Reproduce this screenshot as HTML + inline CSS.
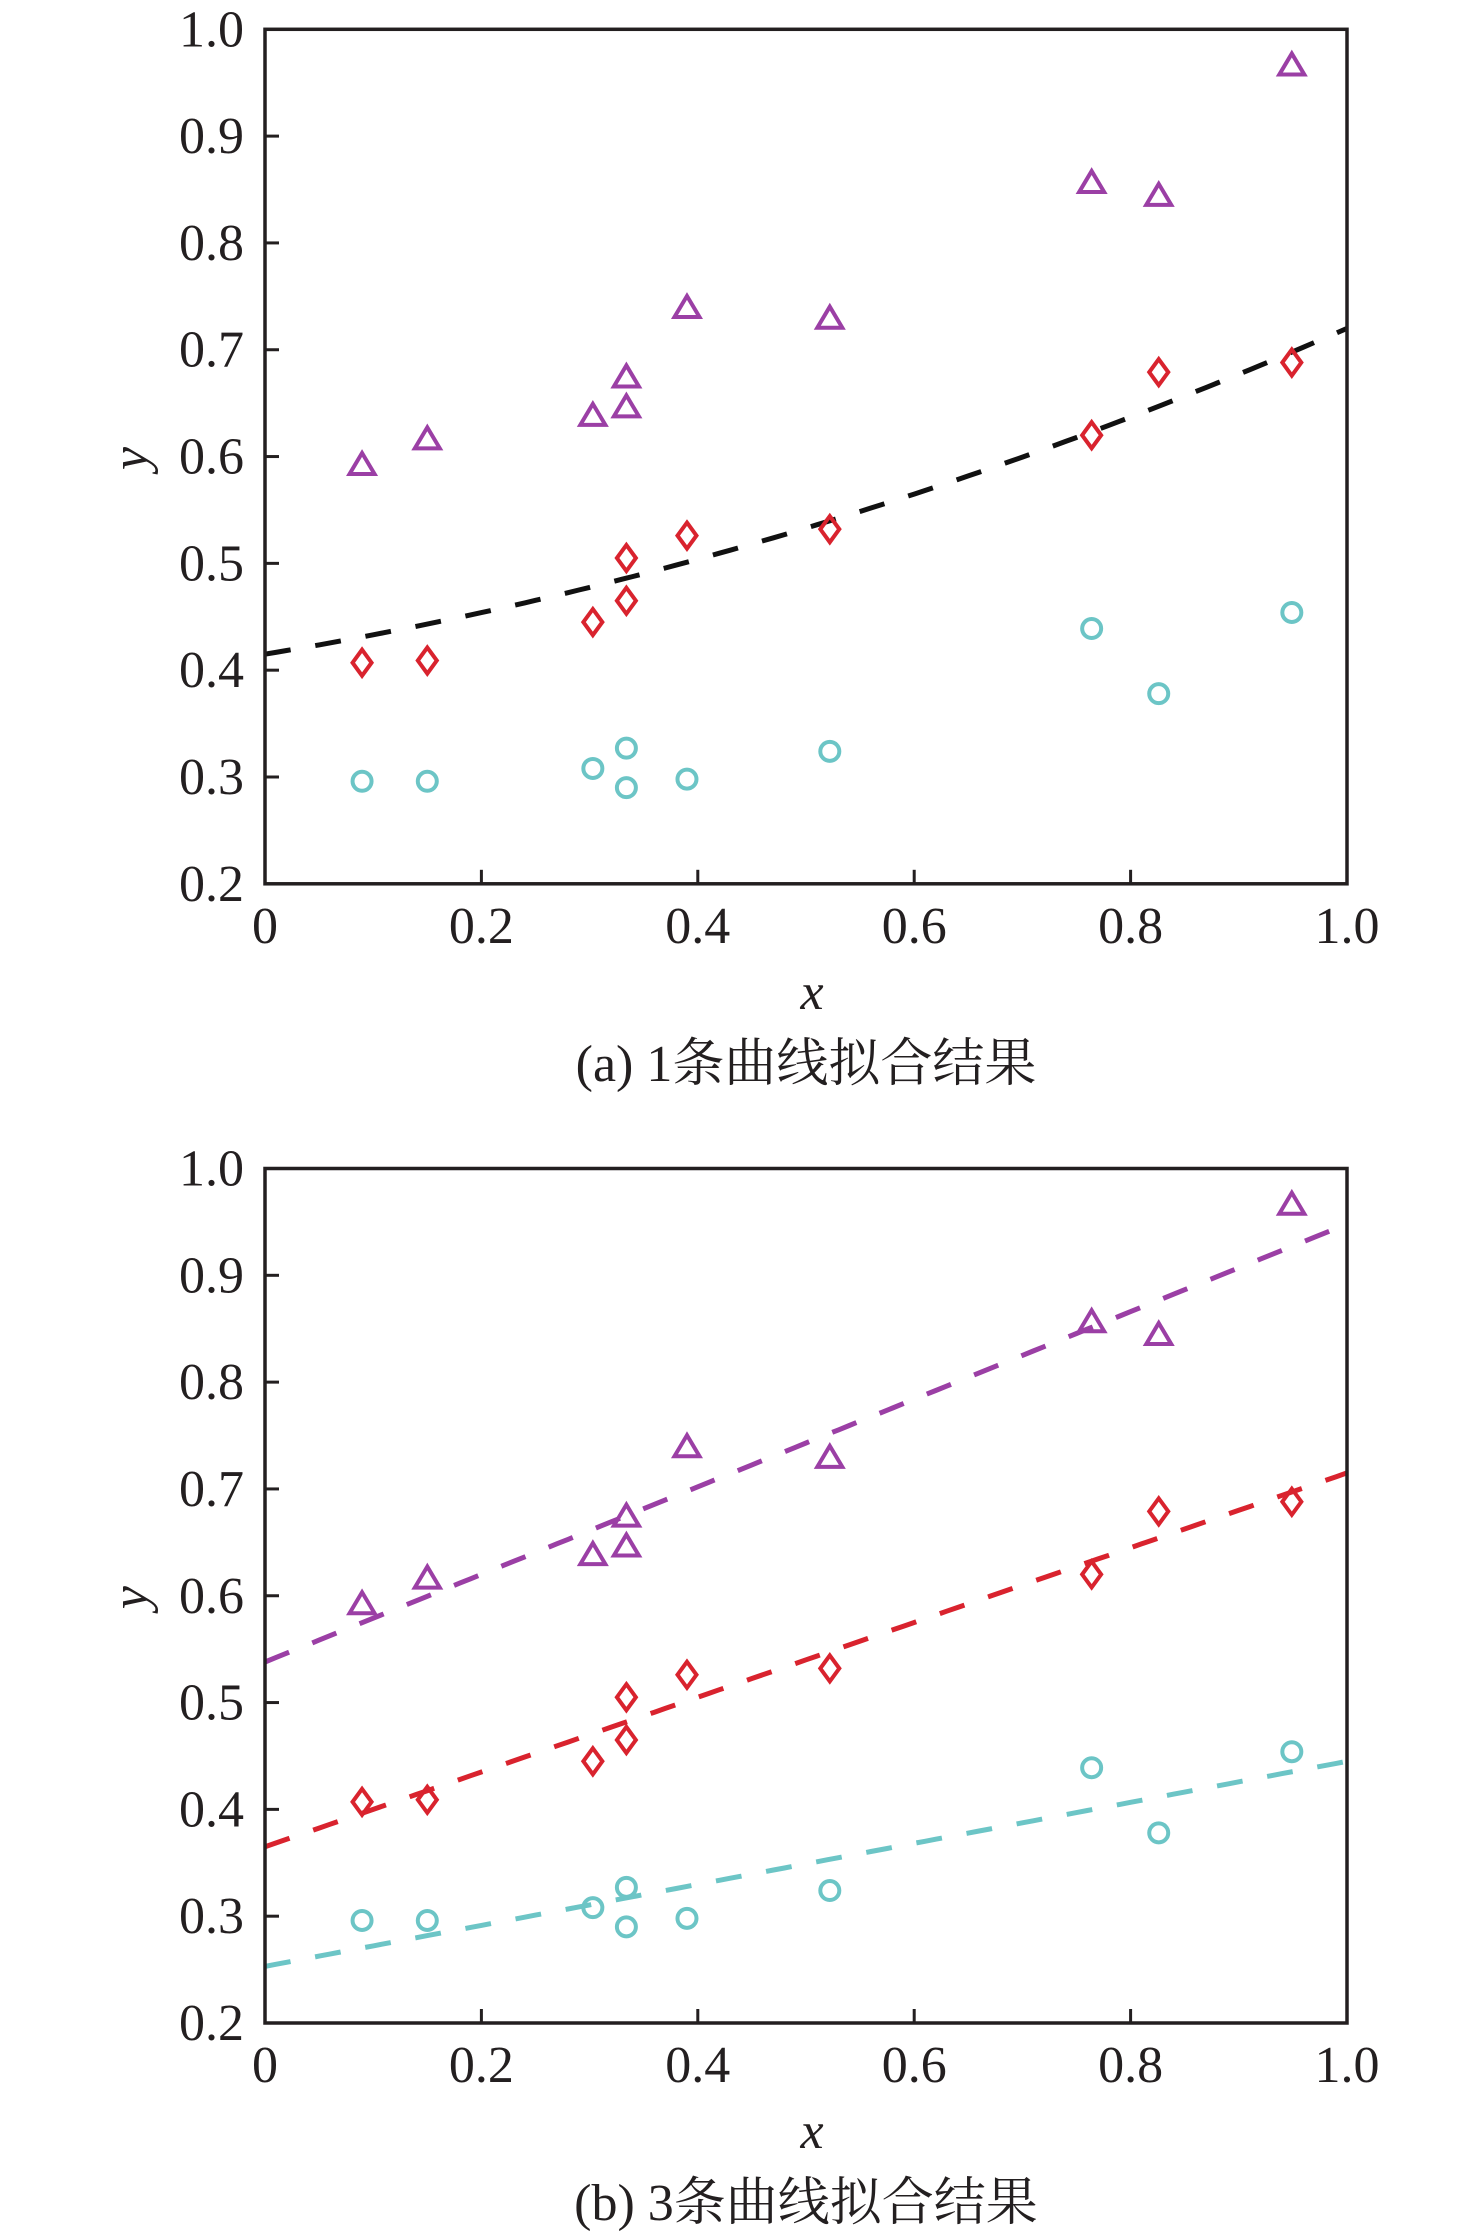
<!DOCTYPE html>
<html><head><meta charset="utf-8">
<style>
html,body{margin:0;padding:0;background:#fff;}
svg{display:block;}
text{font-family:"Liberation Serif","Noto Serif CJK SC",serif;fill:#231f20;}
</style></head>
<body>
<svg id="chart" width="1476" height="2238" viewBox="0 0 1476 2238" xmlns="http://www.w3.org/2000/svg"></svg>
<script>
const xValues = [0.0897, 0.150, 0.303, 0.334, 0.334, 0.390, 0.522, 0.764, 0.826, 0.949];
const triangleY = [0.593, 0.617, 0.639, 0.675, 0.647, 0.740, 0.730, 0.857, 0.845, 0.967];
const diamondY = [0.407, 0.409, 0.445, 0.505, 0.465, 0.526, 0.532, 0.620, 0.679, 0.688];
const circleY = [0.296, 0.296, 0.308, 0.327, 0.290, 0.298, 0.324, 0.439, 0.378, 0.454];
const xTicks = [0, 0.2, 0.4, 0.6, 0.8, 1.0];
const xTickLabels = ["0", "0.2", "0.4", "0.6", "0.8", "1.0"];
const yTicks = [0.2, 0.3, 0.4, 0.5, 0.6, 0.7, 0.8, 0.9, 1.0];
const yTickLabels = ["0.2", "0.3", "0.4", "0.5", "0.6", "0.7", "0.8", "0.9", "1.0"];
// single quadratic fit: y = a + b*x + c*x^2
const singleFit = [0.415, 0.167, 0.138];
// three linear fits: [intercept, slope]
const fitTriangle = [0.538, 0.41];
const fitDiamond = [0.365, 0.35];
const fitCircle = [0.253, 0.192];
const captions = ["(a) 1条曲线拟合结果", "(b) 3条曲线拟合结果"];

const NS = "http://www.w3.org/2000/svg";
const svg = document.getElementById("chart");
const COL = {tri:"#9b3fa5", dia:"#d9232e", cir:"#6cc5c6", ax:"#231f20"};

function mk(tag, attrs, parent){
  const e = document.createElementNS(NS, tag);
  for (const k in attrs) e.setAttribute(k, attrs[k]);
  (parent||svg).appendChild(e);
  return e;
}

function drawPanel(idx, top){
  const L = 265, R = 1347, T = top, B = top + 854.5;
  const sx = v => L + v * (R - L);
  const sy = v => B - (v - 0.2) / 0.8 * (B - T);
  const g = mk("g", {});
  
  
  const cid = "clip" + idx;
  const defs = mk("defs", {}, g);
  const cp = mk("clipPath", {id: cid}, defs);
  mk("rect", {x: L, y: T, width: R - L, height: B - T}, cp);

  const lines = mk("g", {"clip-path": "url(#" + cid + ")"}, g);
  function drawLine(fn, color, name){
    let d = "";
    for (let i = 0; i <= 100; i++) {
      const xv = i / 100;
      d += (i ? "L" : "M") + sx(xv).toFixed(1) + " " + sy(fn(xv)).toFixed(1);
    }
    const p = mk("path", {d: d, fill: "none", stroke: color, "stroke-width": 5, "stroke-dasharray": "26 25"}, lines);
    
    
  }
  if (idx === 0) {
    drawLine(x => singleFit[0] + singleFit[1] * x + singleFit[2] * x * x, "#111", "fit-curve");
  } else {
    drawLine(x => fitTriangle[0] + fitTriangle[1] * x, COL.tri, "fit-line-triangle");
    drawLine(x => fitDiamond[0] + fitDiamond[1] * x, COL.dia, "fit-line-diamond");
    drawLine(x => fitCircle[0] + fitCircle[1] * x, COL.cir, "fit-line-circle");
  }

  xValues.forEach((xv, i) => {
    const cx = sx(xv);
    let y = sy(triangleY[i]);
    const t = mk("polygon", {points: `${cx},${y-11} ${cx-12.5},${y+10} ${cx+12.5},${y+10}`, fill: "none", stroke: COL.tri, "stroke-width": 4}, g);
    
    
    y = sy(diamondY[i]);
    const d = mk("polygon", {points: `${cx},${y-13} ${cx+9.5},${y} ${cx},${y+13} ${cx-9.5},${y}`, fill: "none", stroke: COL.dia, "stroke-width": 4}, g);
    
    
    y = sy(circleY[i]);
    const c = mk("circle", {cx: cx, cy: y, r: 9.5, fill: "none", stroke: COL.cir, "stroke-width": 4}, g);
    
    
  });

  const f = mk("rect", {x: L, y: T, width: R - L, height: B - T, fill: "none", stroke: COL.ax, "stroke-width": 3.5}, g);
  
  

  xTicks.forEach((v, i) => {
    const x = sx(v);
    if (i > 0 && i < xTicks.length - 1) mk("line", {x1: x, x2: x, y1: B, y2: B - 14, stroke: COL.ax, "stroke-width": 3}, g);
    const t = mk("text", {x: x, y: B + 59, "font-size": 52, "text-anchor": "middle"}, g);
    t.textContent = xTickLabels[i];
    
    
  });
  yTicks.forEach((v, i) => {
    const y = sy(v);
    if (i > 0 && i < yTicks.length - 1) mk("line", {x1: L, x2: L + 14, y1: y, y2: y, stroke: COL.ax, "stroke-width": 3}, g);
    const t = mk("text", {x: 244, y: y + 17, "font-size": 52, "text-anchor": "end"}, g);
    t.textContent = yTickLabels[i];
    
    
  });

  const xl = mk("text", {x: 812, y: B + 125, "font-size": 52, "font-style": "italic", "text-anchor": "middle"}, g);
  xl.textContent = "x";
  
  
  const yl = mk("text", {x: 0, y: 0, "font-size": 52, "font-style": "italic", "text-anchor": "middle", transform: `translate(147 ${(T+B)/2 + 2}) rotate(-90)`}, g);
  yl.textContent = "y";
  
  
  const cap = mk("text", {x: 806, y: B + 197, "font-size": 52, "text-anchor": "middle"}, g);
  cap.textContent = captions[idx];
  
  
}

drawPanel(0, 29.3);
drawPanel(1, 1168.5);
</script>
</body></html>
